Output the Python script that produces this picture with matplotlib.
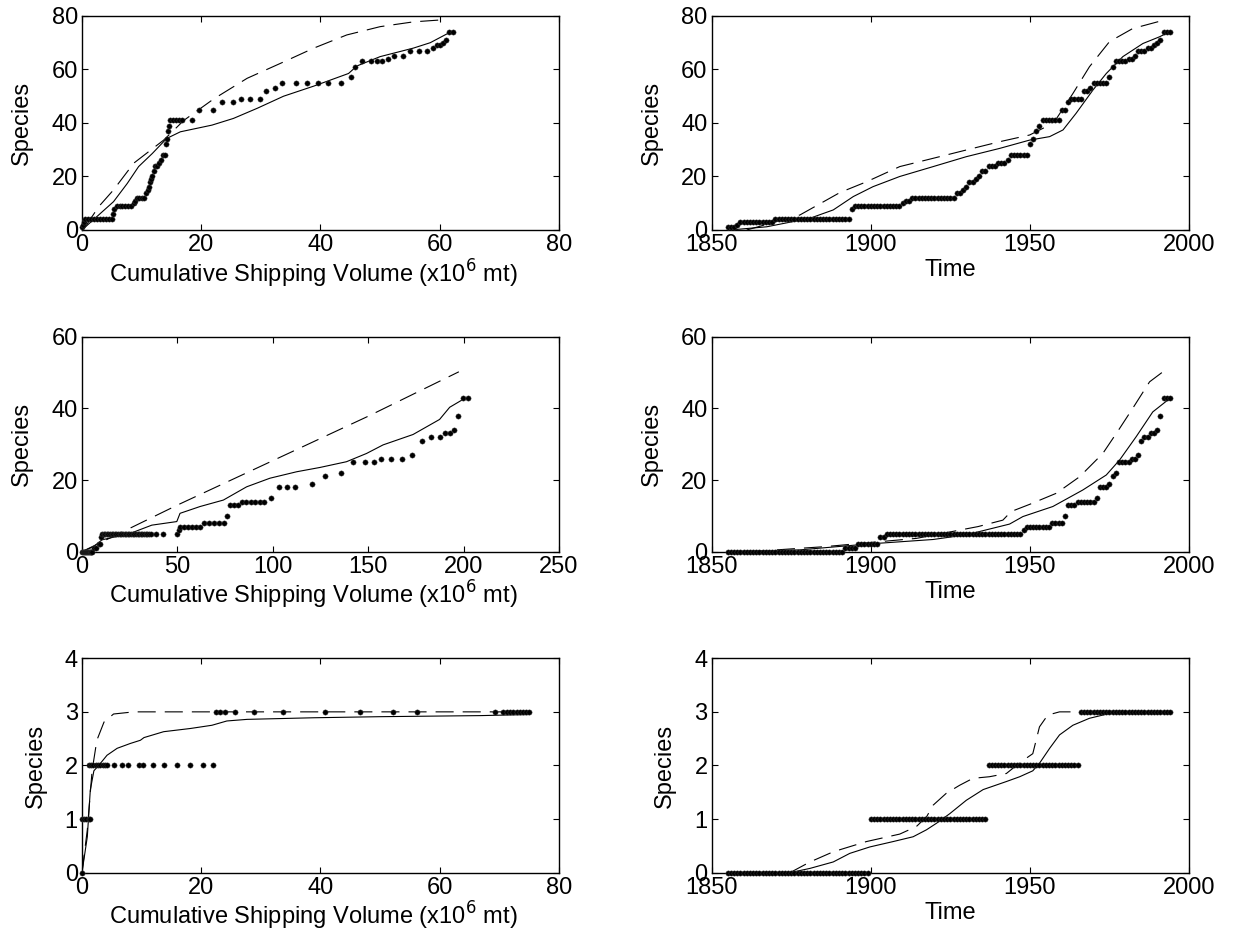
import numpy as np
import matplotlib
matplotlib.use("Agg")
from matplotlib import pyplot as plt

plt.rcParams['font.family'] = ['Liberation Sans', 'DejaVu Sans']
plt.rcParams['font.size'] = 17
plt.rcParams['lines.scale_dashes'] = False

# ---------------- data ----------------
years = np.arange(1855, 1995)

# top row (all species)
top_change_years = [1855, 1858, 1859, 1870, 1894, 1895, 1910, 1911, 1913, 1927, 1929, 1930,
                    1931, 1933, 1934, 1935, 1937, 1940, 1943, 1944, 1950, 1951, 1952, 1953,
                    1954, 1960, 1962, 1963, 1967, 1969, 1970, 1975, 1976, 1977, 1981, 1983,
                    1984, 1987, 1989, 1990, 1991, 1992]
top_change_counts = [1, 2, 3, 4, 8, 9, 10, 11, 12, 14, 15, 16,
                     18, 19, 20, 22, 24, 25, 26, 28, 32, 34, 37, 39,
                     41, 45, 48, 49, 52, 53, 55, 57, 61, 63, 64, 65,
                     67, 68, 69, 70, 71, 74]

top_vol_dots = [0, 0.15, 0.3, 0.5, 1, 1.5, 2, 2.5, 3, 3.5, 4, 4.5, 5, 5.2, 5.4,
                5.8, 6.3, 6.8, 7.3, 7.8, 8.3, 8.7, 8.9, 9.2, 9.6, 10.0, 10.4,
                10.8, 11.0, 11.2, 11.4, 11.6, 11.8, 12.0, 12.3, 12.6, 12.9, 13.3, 13.6,
                13.9, 14.1, 14.3, 14.5, 14.6, 14.8, 15.3, 15.8, 16.3, 16.8, 18.5, 19.7,
                21.9, 23.5, 25.3, 26.7, 28.2, 29.8, 30.9, 32.3, 33.5, 35.9, 37.7, 39.5,
                41.2, 43.4, 45.1, 45.8, 47.0, 48.4, 49.4, 50.3, 51.4, 52.3, 53.8, 55.0,
                56.6, 57.9, 58.8, 59.5, 60.1, 60.5, 61.0, 61.6, 62.3]
top_sp_dots = [1, 2, 3, 4, 4, 4, 4, 4, 4, 4, 4, 4, 4, 6, 8,
               9, 9, 9, 9, 9, 9, 10, 11, 12, 12, 12, 12,
               14, 15, 16, 18, 19, 20, 22, 24, 24, 25, 26, 28,
               28, 32, 34, 37, 39, 41, 41, 41, 41, 41, 41, 45,
               45, 48, 48, 49, 49, 49, 52, 53, 55, 55, 55, 55,
               55, 55, 57, 61, 63, 63, 63, 63, 64, 65, 65, 67,
               67, 67, 68, 69, 69, 70, 71, 74, 74]

top_vol_solid = [0, 2.5, 5.3, 7.6, 9.5, 11.8, 14.2, 16.5, 21.8, 25.4, 29.4, 33.8, 38.9,
                 44.7, 46.1, 50, 55.6, 58.4, 61.8]
top_sp_solid = [0, 5, 10.6, 17.4, 23.7, 28.6, 34.2, 36.7, 39.2, 41.7, 45.5, 50, 53.8,
                58.5, 61.3, 64.8, 68, 70, 74]
top_vol_dash = [0.5, 2.8, 5.3, 8.7, 13.7, 17.1, 22.1, 27.7, 33.3, 38.9, 44.4, 50, 55.6, 60.1]
top_sp_dash = [1, 8.7, 15, 25, 33.6, 41, 49, 56.7, 62.3, 68, 72.9, 76, 77.8, 78.5]

top_yr_solid = [1855.8, 1867.3, 1880.9, 1888.2, 1894.5, 1900.7, 1909.1, 1919.6, 1930,
                1940.5, 1949.9, 1956.2, 1960.4, 1964.5, 1969.8, 1974, 1979.2, 1985.5,
                1990.7, 1993.8]
top_sp_yr_solid = [0, 1.2, 4.4, 7.5, 12.5, 16.2, 20, 23.7, 27.4,
                   30.5, 33.6, 34.9, 37.4, 43.6, 52.3, 58.5, 64.8, 69.7,
                   72.2, 74]
top_yr_dash = [1861, 1877.7, 1890.3, 1898.6, 1909.1, 1919.6, 1930, 1940.5, 1949.9,
               1955.1, 1958, 1963.5, 1968.7, 1975, 1982.3, 1992.3]
top_sp_yr_dash = [0, 5.6, 14, 18, 23.7, 26.8, 29.9, 33, 35.5,
                  38.6, 41, 51, 61, 70.4, 75.3, 78.5]

# middle row
mid_change_years = [1855, 1892, 1896, 1903, 1905, 1948, 1949, 1957, 1961, 1962, 1965,
                    1971, 1972, 1975, 1976, 1977, 1978, 1982, 1984, 1985, 1986, 1988,
                    1990, 1991, 1992]
mid_change_counts = [0, 1, 2, 4, 5, 6, 7, 8, 10, 13, 14,
                     15, 18, 19, 21, 22, 25, 26, 27, 31, 32, 33,
                     34, 38, 43]

mid_vol_dots = [0, 0.5, 1, 1.5, 2, 2.5, 3, 3.5, 4, 4.5, 5, 5.5, 6.1, 7.3, 8.7, 9.6, 10.1,
                10.5, 11.3, 12.2, 13.0, 13.9, 14.7, 15.6, 16.4, 17.3, 18.1, 19.0, 19.8,
                20.7, 21.5, 22.4, 23.2, 24.1, 24.9, 25.8, 26.6, 27.5, 28.3, 29.2, 30.0,
                30.9, 31.7, 32.6, 33.4, 34.3, 35.1, 36.0, 38.9, 42.7, 50.0,
                50.6, 51.4, 53.5, 55.6, 57.7, 59.8, 61.9, 64.0, 66.6, 69.2, 71.9, 74.5,
                76.2, 77.6, 79.8, 82.0, 83.7, 86.1, 88.5, 90.8, 93.2, 95.6, 99.0,
                103.2, 107.4, 111.6, 120.3, 127.6, 135.5, 142.1, 148.2, 152.9, 156.6,
                161.8, 167.9, 173.0, 178.4, 183.1, 187.8, 190.4, 192.7, 194.8, 197.0,
                199.7, 202.3]
mid_sp_dots = [0, 0, 0, 0, 0, 0, 0, 0, 0, 0, 0, 0, 1, 1, 2, 2, 4,
               5, 5, 5, 5, 5, 5, 5, 5, 5, 5, 5, 5,
               5, 5, 5, 5, 5, 5, 5, 5, 5, 5, 5, 5,
               5, 5, 5, 5, 5, 5, 5, 5, 5, 5,
               6, 7, 7, 7, 7, 7, 7, 8, 8, 8, 8, 8,
               10, 13, 13, 13, 14, 14, 14, 14, 14, 14, 15,
               18, 18, 18, 19, 21, 22, 25, 25, 25, 26,
               26, 26, 27, 31, 32, 32, 33, 33, 34, 38,
               43, 43]

mid_vol_solid = [0, 6.1, 10.5, 25.3, 36.6, 49.7, 51.4, 61.9, 74.1, 86.3, 98.5, 112.5,
                 124.7, 138.6, 149.1, 157.8, 173.5, 187.4, 192.7, 199.7]
mid_sp_solid = [0, 1.4, 3.3, 5.1, 7.4, 8.4, 10.7, 12.6, 14.4, 18.1, 20.5, 22.3,
                23.5, 25.1, 27.4, 29.8, 32.7, 36.9, 40.3, 42.5]
mid_vol_dash = [0, 10, 50, 100, 150, 197.5]
mid_sp_dash = [0, 2.6, 13, 25.4, 37.8, 50.2]

mid_yr_solid = [1855.8, 1877.7, 1898.6, 1919.6, 1930, 1943.6, 1947.8, 1957.2, 1966.6,
                1974, 1978.2, 1983.4, 1988.6, 1993.3]
mid_sp_yr_solid = [0, 0.5, 2.1, 3.4, 4.7, 7.7, 9.8, 12.6, 17.2,
                   21.4, 25.6, 32.1, 39, 42.3]
mid_yr_dash = [1862, 1885.6, 1899.2, 1914.3, 1933.7, 1941.5, 1944.1, 1949.9, 1958.3,
               1965.6, 1972.9, 1977.9, 1982.3, 1987.6, 1993.6]
mid_sp_yr_dash = [0, 1.4, 2.5, 3.7, 7, 8.8, 11.2, 13.2, 16.3,
                  20.9, 27.4, 34, 40, 47.4, 51.4]

# bottom row
bot_change_years = [1855, 1900, 1937, 1966]
bot_change_counts = [0, 1, 2, 3]

bot_vol_dots = [0, 0, 0.3, 0.7, 1.1, 1.4, 1.1, 1.5, 1.9, 2.3, 2.7, 3.1, 3.5, 3.9, 4.2,
                5.3, 6.7, 7.7, 9.6, 10.2, 11.9, 13.8, 15.9, 18.1, 20.3, 21.9,
                22.5, 23.2, 24.0, 25.6, 28.9, 33.7, 40.8, 46.7, 52.1, 56.2,
                69.2, 70.6, 71.2, 71.7, 72.3, 72.9, 73.4, 74.0, 74.5, 75.0]
bot_sp_dots = [0, 1, 1, 1, 1, 1, 2, 2, 2, 2, 2, 2, 2, 2, 2,
               2, 2, 2, 2, 2, 2, 2, 2, 2, 2, 2,
               3, 3, 3, 3, 3, 3, 3, 3, 3, 3,
               3, 3, 3, 3, 3, 3, 3, 3, 3, 3]

bot_vol_solid = [0, 0.9, 1.4, 2, 3.1, 4.2, 5.9, 8.1, 9.8, 10.4, 13.7, 18.2, 21.8, 24.3,
                 27.7, 38.9, 50, 66.8, 75]
bot_sp_solid = [0, 0.67, 1.54, 1.9, 2.04, 2.19, 2.32, 2.41, 2.47, 2.52, 2.63, 2.69, 2.75,
                2.83, 2.86, 2.89, 2.91, 2.93, 2.95]
bot_vol_dash = [0, 0.9, 1.7, 2.5, 3.7, 5.3, 8.7, 75]
bot_sp_dash = [0, 0.8, 1.9, 2.47, 2.81, 2.96, 3.0, 3.0]

bot_yr_solid = [1874.6, 1880.9, 1888.2, 1893.4, 1899.7, 1907, 1913.3, 1917.5, 1920.6,
                1924.8, 1930, 1935.3, 1942.6, 1946.8, 1950.9, 1953, 1956.2, 1959.3,
                1963.5, 1968.7, 1975, 1982.3, 1993.8]
bot_sp_yr_solid = [0, 0.08, 0.2, 0.36, 0.48, 0.58, 0.67, 0.8, 0.92,
                   1.1, 1.35, 1.55, 1.7, 1.79, 1.9, 2.04, 2.32, 2.57,
                   2.75, 2.88, 2.97, 3.0, 3.0]
bot_yr_dash = [1874.6, 1880.9, 1888.2, 1898.6, 1909.1, 1914.3, 1917.5, 1919.6, 1923.7,
               1927.9, 1932.1, 1937.3, 1942.6, 1946.8, 1950.9, 1953, 1955.6, 1959.3,
               1993.8]
bot_sp_yr_dash = [0, 0.2, 0.39, 0.58, 0.72, 0.86, 1.04, 1.26, 1.48,
                  1.63, 1.76, 1.79, 1.85, 2.05, 2.22, 2.72, 2.94, 3.0,
                  3.0]


def step_counts(change_years, change_counts):
    # count of species recorded by each year (step series)
    idx = np.searchsorted(change_years, years, side='right') - 1
    return np.array(change_counts)[idx]


DASH = (13, 6.5)


def style(ax, xlim, xticks, ylim, yticks, xlabel, pad, xpos):
    ax.set_xlim(xlim)
    ax.set_ylim(ylim)
    ax.set_xticks(xticks)
    ax.set_yticks(yticks)
    ax.tick_params(direction='in', top=True, right=True, length=4, width=0.8, pad=3)
    for s in ax.spines.values():
        s.set_linewidth(1.0)
    ax.set_xlabel(xlabel, labelpad=pad)
    ax.xaxis.label.set_x(xpos)
    ax.set_ylabel("Species", labelpad=13)


def draw(ax, dx, dy, sx, sy, ex, ey):
    ax.plot(sx, sy, color='black', lw=0.8)
    ax.plot(ex, ey, color='black', lw=0.8, linestyle=(0, DASH))
    ax.plot(dx, dy, 'o', color='black', markersize=3.8, markeredgewidth=0.3,
            markeredgecolor='#444444', clip_on=False, zorder=3)


fig = plt.figure(figsize=(12.36, 9.5), dpi=100)
lefts = [0.0663, 0.5758]
bottoms = [0.7579, 0.4193, 0.0814]
heights = [0.2253, 0.2263, 0.2257]
vol_label = r"Cumulative Shipping Volume (x10$^6$ mt)"

rows = [
    (top_vol_dots, top_sp_dots, top_vol_solid, top_sp_solid, top_vol_dash, top_sp_dash,
     top_change_years, top_change_counts, top_yr_solid, top_sp_yr_solid, top_yr_dash, top_sp_yr_dash,
     (0, 80), [0, 20, 40, 60, 80], (0, 80), [0, 20, 40, 60, 80]),
    (mid_vol_dots, mid_sp_dots, mid_vol_solid, mid_sp_solid, mid_vol_dash, mid_sp_dash,
     mid_change_years, mid_change_counts, mid_yr_solid, mid_sp_yr_solid, mid_yr_dash, mid_sp_yr_dash,
     (0, 250), [0, 50, 100, 150, 200, 250], (0, 60), [0, 20, 40, 60]),
    (bot_vol_dots, bot_sp_dots, bot_vol_solid, bot_sp_solid, bot_vol_dash, bot_sp_dash,
     bot_change_years, bot_change_counts, bot_yr_solid, bot_sp_yr_solid, bot_yr_dash, bot_sp_yr_dash,
     (0, 80), [0, 20, 40, 60, 80], (0, 4), [0, 1, 2, 3, 4]),
]

for r, row in enumerate(rows):
    (vd, sd, vs, ss, ve, se, cy, cc, ys, sys_, ye, sye, xl, xt, yl, yt) = row
    ax = fig.add_axes([lefts[0], bottoms[r], 0.386, heights[r]])
    draw(ax, vd, sd, vs, ss, ve, se)
    style(ax, xl, xt, yl, yt, vol_label, 1, 0.485)

    ax = fig.add_axes([lefts[1], bottoms[r], 0.3862, heights[r]])
    draw(ax, years, step_counts(cy, cc), ys, sys_, ye, sye)
    style(ax, (1850, 2000), [1850, 1900, 1950, 2000], yl, yt, "Time", 2, 0.5)

fig.savefig("out.png", dpi=100)
